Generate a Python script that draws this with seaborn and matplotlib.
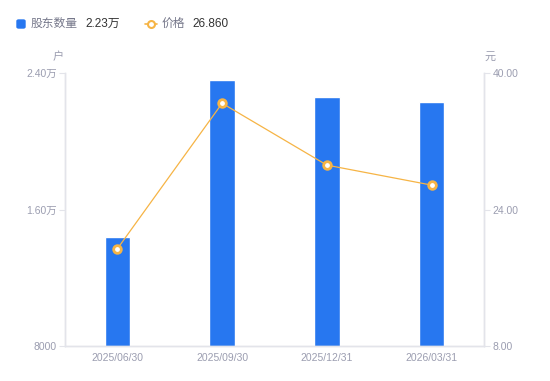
import matplotlib
matplotlib.use("Agg")
import matplotlib.pyplot as plt
import seaborn as sns
import pandas as pd
from matplotlib.lines import Line2D
from matplotlib.patches import FancyBboxPatch

# data
dates = ["2025/06/30", "2025/09/30", "2025/12/31", "2026/03/31"]
holders = [14400, 23580, 22620, 22300]
prices = [19.4, 36.45, 29.2, 26.86]

left_ticks = [8000, 16000, 24000]
left_labels = ["8000", "1.60万", "2.40万"]
right_ticks = [8, 24, 40]
right_labels = ["8.00", "24.00", "40.00"]

BLUE = "#2777f0"
ORANGE = "#f6b445"
GRID = "#e3e4ea"
TICK = "#9b9db0"

sns.set_theme(style="white")
plt.rcParams["font.family"] = ["Liberation Sans", "Noto Sans CJK SC", "DejaVu Sans"]

df = pd.DataFrame({"date": dates, "holders": holders, "price": prices})

fig = plt.figure(figsize=(5.5, 3.81), dpi=100)
ax = fig.add_axes([65 / 550, 35 / 381, 419 / 550, 273 / 381])

sns.barplot(data=df, x="date", y="holders", color=BLUE, width=0.245,
            saturation=1, ax=ax, zorder=2)
ax.set_ylim(8000, 24000)
ax.set_xlim(-0.5, 3.5)
ax.set_yticks(left_ticks)
ax.set_yticklabels(left_labels)
ax.set_xlabel("")
ax.set_ylabel("")

ax2 = ax.twinx()
sns.lineplot(data=df, x="date", y="price", color=ORANGE, linewidth=0.9,
             marker="o", markersize=5.5, markerfacecolor="white",
             markeredgecolor=ORANGE, markeredgewidth=2.0, ax=ax2, zorder=3)
ax2.set_ylim(8, 40)
ax2.set_xlim(-0.5, 3.5)
ax2.set_yticks(right_ticks)
ax2.set_yticklabels(right_labels)
ax2.set_xlabel("")
ax2.set_ylabel("")

for a in (ax, ax2):
    a.spines["top"].set_visible(False)
    for side in ("left", "right", "bottom"):
        a.spines[side].set_color(GRID)
        a.spines[side].set_linewidth(1)
    a.tick_params(axis="y", colors=TICK, labelsize=7.5, length=4, width=0.8,
                  pad=2, color=GRID)
    a.tick_params(axis="x", colors=TICK, labelsize=7.5, length=0, pad=5)
    a.grid(False)
ax2.tick_params(axis="y", labelcolor=TICK)

# axis units
fig.text(58 / 550, 1 - 57 / 381, "户", color=TICK, fontsize=8, ha="center", va="center")
fig.text(490 / 550, 1 - 57 / 381, "元", color=TICK, fontsize=8, ha="center", va="center")

# legend at top
ly = 1 - 24 / 381
fig.add_artist(FancyBboxPatch((17 / 550, ly - 4 / 381), 8 / 550, 8 / 381,
                              boxstyle="round,pad=0,rounding_size=0.003",
                              transform=fig.transFigure, color=BLUE))
fig.text(31 / 550, ly, "股东数量", color="#75778a", fontsize=8.5, va="center")
fig.text(85 / 550, ly, "2.23万", color="#333333", fontsize=8.5, va="center")
fig.add_artist(Line2D([145 / 550, 157 / 550], [ly, ly], transform=fig.transFigure,
                      color=ORANGE, linewidth=1.2))
fig.add_artist(Line2D([151 / 550], [ly], transform=fig.transFigure, marker="o",
                      markersize=5, markerfacecolor="white", markeredgecolor=ORANGE,
                      markeredgewidth=1.5))
fig.text(162 / 550, ly, "价格", color="#75778a", fontsize=8.5, va="center")
fig.text(192 / 550, ly, "26.860", color="#333333", fontsize=8.5, va="center")

fig.savefig("out.png", dpi=100)
